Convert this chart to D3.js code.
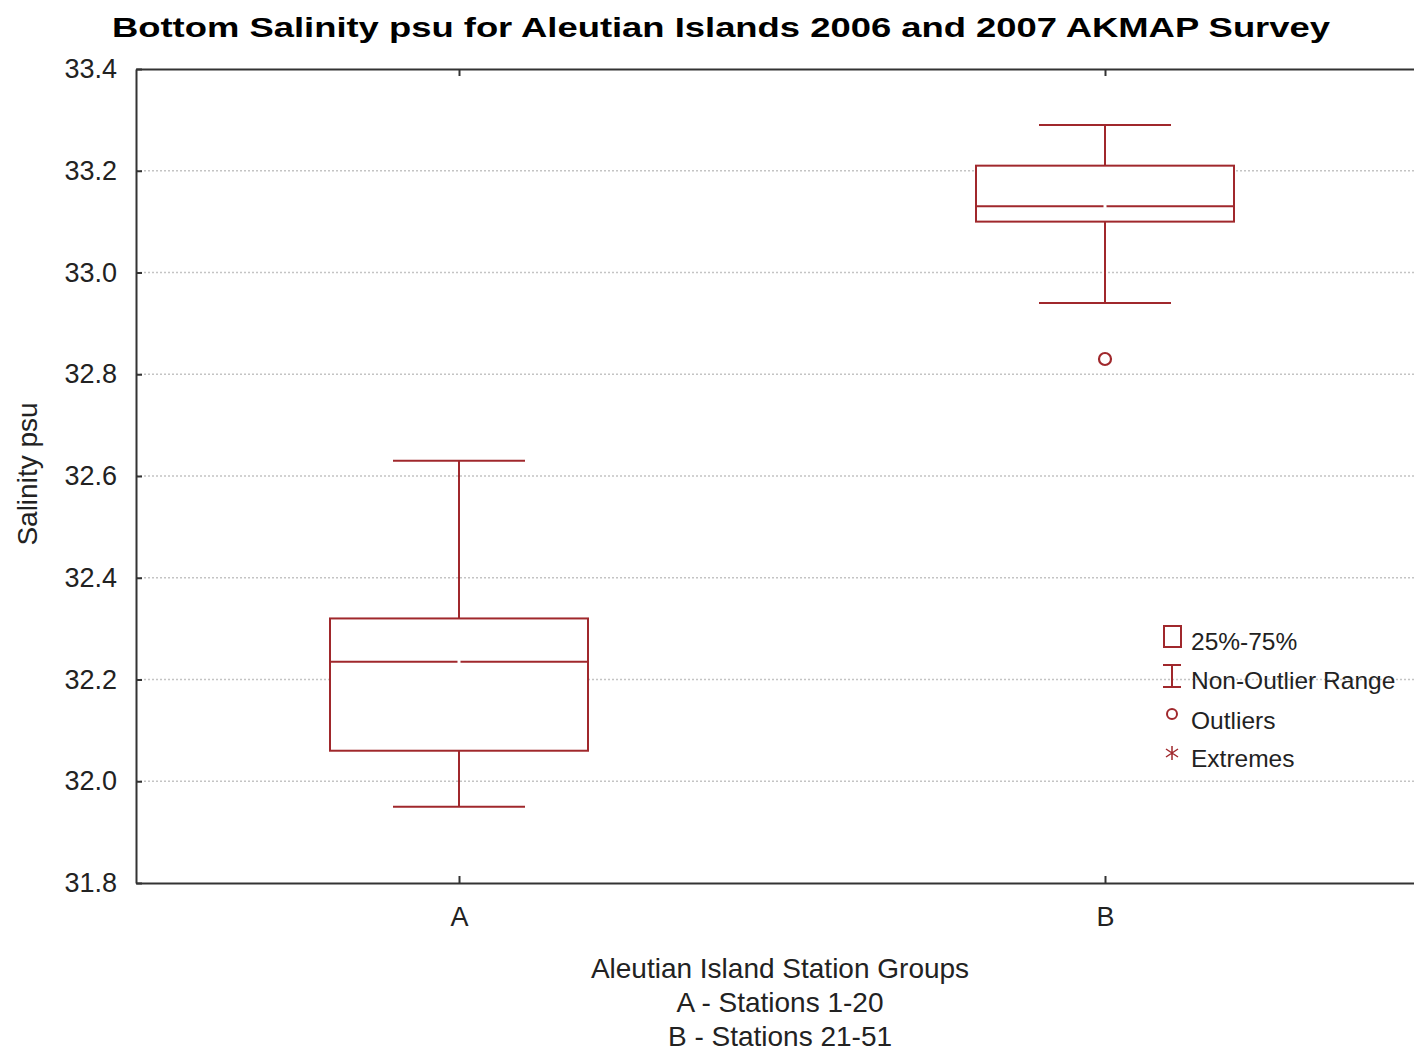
<!DOCTYPE html>
<html>
<head>
<meta charset="utf-8">
<script src="https://cdn.jsdelivr.net/npm/d3@7"></script>
<style>
    body { margin: 0; background: #fff; }
    svg { display: block; font-family: "Liberation Sans", Arial, sans-serif; }
    .axis text { font-size: 27px; fill: #222; }
    .axis path, .axis line { stroke: #333; stroke-width: 2; }
</style>
</head>
<body>
<div id="chart"></div>
<script>

// Box plot summaries
let groups = ["A", "B"];
let whiskerLow = [31.95, 32.94];
let q1 = [32.06, 33.10];
let median = [32.235, 33.13];
let q3 = [32.32, 33.21];
let whiskerHigh = [32.63, 33.29];
let outliers = [[], [32.83]];

let yTicks = [31.8, 32.0, 32.2, 32.4, 32.6, 32.8, 33.0, 33.2, 33.4];
let legendLabels = ["25%-75%", "Non-Outlier Range", "Outliers", "Extremes"];

let width = 1414, height = 1053;
let margin = {top: 69, left: 136, bottom: 883};
let boxColor = "#a0282c";

let svg = d3.select("#chart").append("svg")
    .attr("width", width)
    .attr("height", height);

// Scales
let x = d3.scalePoint()
    .domain(groups)
    .range([margin.left, 1428])
    .padding(0.5);

let y = d3.scaleLinear()
    .domain([31.8, 33.4])
    .range([margin.bottom, margin.top]);

// Dotted gridlines
svg.append("g")
    .selectAll("line")
    .data(yTicks.slice(1, -1))
    .enter().append("line")
    .attr("x1", margin.left)
    .attr("x2", width)
    .attr("y1", d => y(d))
    .attr("y2", d => y(d))
    .attr("stroke", "#c4c4c4")
    .attr("stroke-width", 1.5)
    .attr("stroke-dasharray", "2,2");

// Axes (ticks point inward)
svg.append("g")
    .attr("class", "axis")
    .attr("transform", "translate(" + margin.left + ",0)")
    .call(d3.axisLeft(y).tickValues(yTicks).tickFormat(d3.format(".1f"))
        .tickSizeInner(-6).tickSizeOuter(0).tickPadding(19));

svg.append("g")
    .attr("class", "axis")
    .attr("transform", "translate(0," + margin.bottom + ")")
    .call(d3.axisBottom(x).tickSizeInner(-7).tickSizeOuter(0).tickPadding(24));

svg.append("g")
    .attr("class", "axis")
    .attr("transform", "translate(0," + margin.top + ")")
    .call(d3.axisTop(x).tickSizeInner(-7).tickSizeOuter(0).tickFormat(""));

// Boxes
let boxHalf = 129, capHalf = 66;
let box = svg.append("g")
    .selectAll("g")
    .data(groups)
    .enter().append("g")
    .attr("stroke", boxColor)
    .attr("stroke-width", 2)
    .attr("fill", "none");

box.append("line")
    .attr("x1", d => x(d)).attr("x2", d => x(d))
    .attr("y1", (d, i) => y(whiskerLow[i]))
    .attr("y2", (d, i) => y(q1[i]));

box.append("line")
    .attr("x1", d => x(d)).attr("x2", d => x(d))
    .attr("y1", (d, i) => y(q3[i]))
    .attr("y2", (d, i) => y(whiskerHigh[i]));

[whiskerLow, whiskerHigh].forEach(function(arr) {
    box.append("line")
        .attr("x1", d => x(d) - capHalf).attr("x2", d => x(d) + capHalf)
        .attr("y1", (d, i) => y(arr[i]))
        .attr("y2", (d, i) => y(arr[i]));
});

box.append("rect")
    .attr("x", d => x(d) - boxHalf)
    .attr("width", boxHalf * 2)
    .attr("y", (d, i) => y(q3[i]))
    .attr("height", (d, i) => y(q1[i]) - y(q3[i]))
    .attr("fill", "#fff");

// median drawn as two halves, as in the original rendering
box.append("line")
    .attr("x1", d => x(d) - boxHalf).attr("x2", d => x(d) - 1.5)
    .attr("y1", (d, i) => y(median[i]))
    .attr("y2", (d, i) => y(median[i]));
box.append("line")
    .attr("x1", d => x(d) + 1.5).attr("x2", d => x(d) + boxHalf)
    .attr("y1", (d, i) => y(median[i]))
    .attr("y2", (d, i) => y(median[i]));

box.each(function(d, i) {
    d3.select(this).selectAll("circle")
        .data(outliers[i])
        .enter().append("circle")
        .attr("cx", x(d))
        .attr("cy", v => y(v))
        .attr("r", 6)
        .attr("stroke-width", 2.2);
});

// Title
svg.append("text")
    .attr("x", 721)
    .attr("y", 37)
    .attr("text-anchor", "middle")
    .style("font-size", "28px")
    .style("font-weight", "bold")
    .attr("textLength", 1218)
    .attr("lengthAdjust", "spacingAndGlyphs")
    .text("Bottom Salinity psu for Aleutian Islands 2006 and 2007 AKMAP Survey");

// Y axis title
svg.append("text")
    .attr("transform", "translate(37,474) rotate(-90)")
    .attr("text-anchor", "middle")
    .style("font-size", "28px")
    .attr("fill", "#222")
    .text("Salinity psu");

// X axis title
let xTitle = ["Aleutian Island Station Groups", "A - Stations 1-20", "B - Stations 21-51"];
svg.append("g")
    .selectAll("text")
    .data(xTitle)
    .enter().append("text")
    .attr("x", 780)
    .attr("y", (d, i) => 978 + i * 34)
    .attr("text-anchor", "middle")
    .style("font-size", "28px")
    .attr("fill", "#222")
    .text(d => d);

// Legend
let legend = svg.append("g")
    .attr("transform", "translate(1172,0)");

let legendY = [650, 689, 729, 767];

legend.selectAll("text")
    .data(legendLabels)
    .enter().append("text")
    .attr("x", 19)
    .attr("y", (d, i) => legendY[i])
    .style("font-size", "24.5px")
    .attr("fill", "#222")
    .text(d => d);

let sym = legend.append("g")
    .attr("stroke", boxColor)
    .attr("stroke-width", 2)
    .attr("fill", "none");

sym.append("rect").attr("x", -8).attr("y", 626).attr("width", 17).attr("height", 21);
sym.append("line").attr("x1", 0).attr("x2", 0).attr("y1", 665).attr("y2", 687);
sym.append("line").attr("x1", -9).attr("x2", 9).attr("y1", 665).attr("y2", 665);
sym.append("line").attr("x1", -9).attr("x2", 9).attr("y1", 687).attr("y2", 687);
sym.append("circle").attr("cx", 0).attr("cy", 714).attr("r", 5);
sym.append("path")
    .attr("stroke-width", 1.5)
    .attr("d", "M0,746V760M-6,749L6,757M-6,757L6,749");

</script>
</body>
</html>
